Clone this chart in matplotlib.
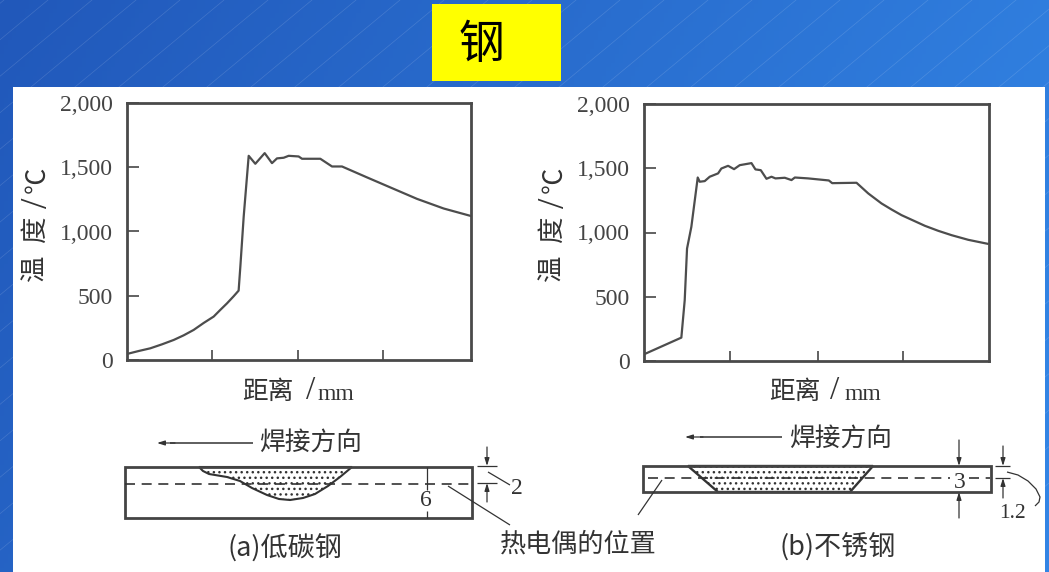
import numpy as np
import matplotlib
matplotlib.use('Agg')
import matplotlib.pyplot as plt
from matplotlib.patches import Rectangle, Polygon

plt.rcParams['font.family'] = ['Noto Sans CJK SC', 'DejaVu Sans']
plt.rcParams['hatch.linewidth'] = 1.0

W, H = 1049, 572
INK = '#333333'
SERIF = ['Liberation Serif', 'DejaVu Serif']

# temperature curves, x in tick units along the distance axis
low_x = [0, 0.136, 0.271, 0.407, 0.543, 0.659, 0.775, 0.891, 1.008, 1.085, 1.163, 1.240, 1.298, 1.318, 1.357,
         1.415, 1.492, 1.601, 1.686, 1.744, 1.822, 1.880, 1.996, 2.035, 2.248, 2.384, 2.5, 2.791, 3.062,
         3.372, 3.682, 3.992]
low_t = [47, 70, 91, 122, 156, 192, 234, 288, 338, 390, 441, 496, 540, 727, 1117,
         1589, 1527, 1610, 1532, 1569, 1574, 1589, 1584, 1566, 1566, 1506, 1506, 1421, 1343,
         1254, 1179, 1122]
ss_x = [0, 0.433, 0.472, 0.499, 0.549, 0.623, 0.646, 0.704, 0.762, 0.859, 0.897, 0.975, 1.044,
        1.110, 1.246, 1.292, 1.354, 1.420, 1.478, 1.524, 1.632, 1.710, 1.749, 1.903, 2.143, 2.182,
        2.464, 2.600, 2.754, 2.870, 2.986, 3.257, 3.412, 3.567, 3.760, 3.985]
ss_t = [52, 182, 473, 875, 1044, 1428, 1395, 1400, 1434, 1460, 1498, 1519, 1493,
        1524, 1540, 1491, 1485, 1418, 1434, 1421, 1426, 1408, 1428, 1421, 1405, 1384,
        1387, 1304, 1226, 1179, 1135, 1052, 1013, 979, 943, 912]
y_ticks = [0, 500, 1000, 1500, 2000]
x_ticks_low = [0.988, 1.988, 2.977]
x_ticks_ss = [0.994, 2.012, 3.0]

# cross sections, pixel coordinates of the page
weld_low = [(199, 467), (203, 471), (209, 474), (227, 477), (240, 481), (252, 488), (267, 495), (279, 499),
            (290, 500), (303, 498), (315, 494), (328, 486), (340, 477), (352, 467)]
weld_ss = [(688, 466), (718, 492), (850, 492), (873, 466)]

fig = plt.figure(figsize=(W / 100, H / 100), dpi=100)

page = fig.add_axes([0, 0, 1, 1], zorder=0)
page.axis('off')

# blue slide background
gx, gy = np.meshgrid(np.linspace(0, 1, 256), np.linspace(0, 1, 128))
grad = np.clip(gx * 0.85 + gy * 0.25, 0, 1)[..., None]
c0 = np.array([33, 88, 186]) / 255
c1 = np.array([50, 132, 228]) / 255
page.imshow(c0 + (c1 - c0) * grad, extent=[0, W, H, 0], aspect='auto', zorder=0)
for x0 in range(-40, W + 600, 44):
    page.plot([x0, x0 - 700], [0, 580], color='white', alpha=0.14, lw=0.5, zorder=1)
page.set_xlim(0, W)
page.set_ylim(H, 0)

page.add_patch(Rectangle((13, 87), 1032, 485, fc='white', ec='none', zorder=2))
page.add_patch(Rectangle((432, 4), 129, 77, fc='#ffff00', ec='none', zorder=2))
page.text(481, 45, '钢', fontsize=33, color='black', ha='center', va='center', zorder=3)


def temp_axes(left, right, top, bottom, xs, ts, ticks):
    ax = fig.add_axes([left / W, 1 - bottom / H, (right - left) / W, (bottom - top) / H], zorder=1)
    ax.patch.set_alpha(0)
    ax.plot(xs, ts, color='#4d4d4d', lw=1.6)
    ax.set_xlim(0, 4)
    ax.set_ylim(0, 2000)
    ax.set_xticks(ticks)
    ax.set_xticklabels([])
    ax.set_yticks(y_ticks)
    ax.set_yticklabels([f'{v:,}' for v in y_ticks], family=SERIF, fontsize=17, color='#444444')
    ax.tick_params(axis='y', direction='in', length=8.5, width=1.3, color='#555555', pad=10)
    ax.tick_params(axis='x', direction='in', length=7.5, width=1.3, color='#555555')
    for s in ax.spines.values():
        s.set_linewidth(2.0)
        s.set_color('#4a4a4a')
    return ax


temp_axes(127, 471, 103, 360, low_x, low_t, x_ticks_low)
temp_axes(644, 989, 104, 361, ss_x, ss_t, x_ticks_ss)


def txt(x, y, s, size=18.5, serif=False, **kw):
    fam = SERIF if serif else ['Noto Sans CJK SC', 'DejaVu Sans']
    page.text(x, y, s, fontsize=size, family=fam, color=INK, ha='center', va='center', zorder=5, **kw)


def line(xs, ys, lw=0.9, **kw):
    page.plot(xs, ys, color=INK, lw=lw, zorder=5, solid_capstyle='butt', **kw)


def arrow(x0, y0, x1, y1):
    page.annotate('', xy=(x1, y1), xytext=(x0, y0), zorder=5,
                  arrowprops=dict(arrowstyle='-|>,head_length=0.45,head_width=0.14', color=INK, lw=0.9,
                                  shrinkA=0, shrinkB=0))


# axis titles
for xc, ys in [(35, 0), (552, 0)]:
    txt(xc, 268, '温', size=19, rotation=90)
    txt(xc, 230, '度', size=19, rotation=90)
    txt(xc + 3, 203, '/', size=27, serif=True, rotation=90)
    txt(xc + 2, 180, '℃', size=19, rotation=90)
txt(268, 392, '距离')
txt(311, 391, '/', size=24, serif=True)
txt(336, 395, 'mm', size=17, serif=True)
txt(795, 392, '距离')
txt(835, 391, '/', size=24, serif=True)
txt(863, 395, 'mm', size=17, serif=True)

# welding direction
line([253, 170], [443, 443], lw=1.1)
arrow(175, 443, 157, 443)
txt(311, 443, '焊接方向')
line([782, 700], [437, 437], lw=1.1)
arrow(703, 437, 685, 437)
txt(841, 439, '焊接方向')

# section a, low carbon steel
page.add_patch(Polygon(weld_low, closed=True, fc='white', ec=INK, lw=1.5, hatch='...', zorder=3))
page.add_patch(Rectangle((125, 467), 347, 51, fc='none', ec='#444444', lw=2.0, zorder=4))
line([125, 472], [484, 484], lw=1.2, ls=(0, (6, 4)))
line([427, 427], [467, 490])
line([427, 427], [511, 518])
txt(426, 501, '6', size=17, serif=True)
line([477, 497], [466, 466])
line([477, 497], [483, 483])
arrow(487, 447, 487, 466)
arrow(487, 502, 487, 483)
line([488, 510], [472, 485])
txt(517, 489, '2', size=17, serif=True)
line([448, 510], [486, 525])
txt(285, 549, '(a)低碳钢', size=19.5)

# section b, stainless steel
page.add_patch(Polygon(weld_ss, closed=True, fc='white', ec=INK, lw=1.7, hatch='...', zorder=3))
page.add_patch(Rectangle((643, 466), 348, 26, fc='none', ec='#444444', lw=2.0, zorder=4))
line([648, 950], [478, 478], lw=1.2, ls=(0, (6, 4)))
line([969, 990], [478, 478], lw=1.2, ls=(0, (6, 4)))
arrow(959, 440, 959, 466)
arrow(959, 518, 959, 492)
txt(960, 482, '3', size=17, serif=True)
line([995, 1010], [466, 466])
line([995, 1010], [478, 478])
arrow(1003, 446, 1003, 466)
arrow(1003, 498, 1003, 478)
line([1007, 1018, 1028, 1036, 1040, 1039, 1035], [472, 475, 481, 489, 497, 502, 506])
txt(1012, 513, '1.2', size=15.5, serif=True)
line([662, 638], [480, 515])
txt(838, 547, '(b)不锈钢', size=19.5)

txt(578, 544, '热电偶的位置', size=18.8)

fig.savefig('out.png', dpi=100)
